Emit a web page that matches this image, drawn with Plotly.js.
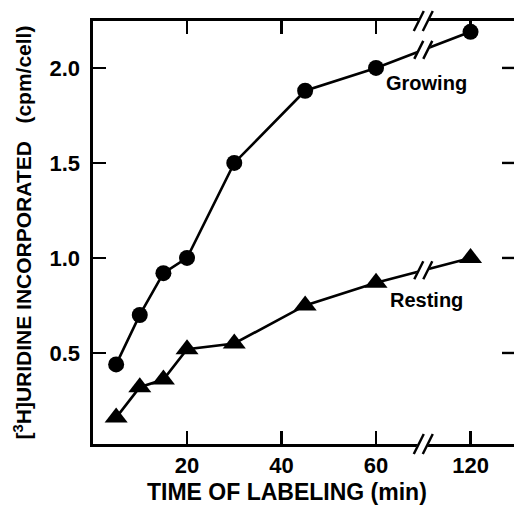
<!DOCTYPE html>
<html>
<head>
<meta charset="utf-8">
<script src="https://cdn.plot.ly/plotly-3.0.1.min.js"></script>
<style>
  html, body { margin: 0; padding: 0; background: #fff; overflow: hidden; }
  #chart { width: 514px; height: 505px; }
</style>
</head>
<body>
<div id="chart"></div>
<script>
// ---- data ----
const times = [5, 10, 15, 20, 30, 45, 60, 120];            // minutes
const growing = [0.44, 0.70, 0.92, 1.00, 1.50, 1.88, 2.00, 2.19];
const resting = [0.16, 0.32, 0.36, 0.52, 0.55, 0.75, 0.87, 1.00];
const xTickTimes = [20, 40, 60, 120];
const xTickLabels = ['20', '40', '60', '120'];
const yTickVals = [0.5, 1.0, 1.5, 2.0];
const seriesNames = ['Growing', 'Resting'];

// ---- broken time axis: everything after 60 min is shifted left ----
const BREAK_AFTER = 60;
const BREAK_SHIFT = 40;
const axisPos = t => (t > BREAK_AFTER ? t - BREAK_SHIFT : t);
const xRange = [0.1, 89.2];
const yRange = [0.021, 2.247];
const breakPos = (BREAK_AFTER + axisPos(times[times.length - 1])) / 2;

const xs = times.map(axisPos);
const FONT = 'Liberation Sans, Arial, Helvetica, sans-serif';

const traces = [
  {
    x: xs, y: growing, name: seriesNames[0], type: 'scatter', mode: 'lines+markers',
    line: { color: '#000', width: 2.6 },
    marker: { symbol: 'circle', size: 16, color: '#000' },
    hoverinfo: 'x+y'
  },
  {
    x: xs, y: resting, name: seriesNames[1], type: 'scatter', mode: 'lines+markers',
    line: { color: '#000', width: 2.6 },
    marker: { symbol: 'triangle-up', size: 20, color: '#000' },
    hoverinfo: 'x+y'
  }
];

// break marks "//"
function breakMarks(xref, yref, xa, ya, h) {
  const w = h / 2, d = 4.5;
  const base = { xref, yref, xsizemode: 'pixel', ysizemode: 'pixel', xanchor: xa, yanchor: ya };
  const fill = Object.assign({}, base, {
    type: 'path',
    path: `M ${-d - w / 2 - 1},${-h / 2} L ${-d + w / 2 - 1},${h / 2} L ${d + w / 2 + 1},${h / 2} L ${d - w / 2 + 1},${-h / 2} Z`,
    fillcolor: '#fff', line: { width: 0 }
  });
  const s1 = Object.assign({}, base, {
    type: 'line', x0: -d - w / 2, y0: -h / 2, x1: -d + w / 2, y1: h / 2,
    line: { color: '#000', width: 2.4 }
  });
  const s2 = Object.assign({}, base, {
    type: 'line', x0: d - w / 2, y0: -h / 2, x1: d + w / 2, y1: h / 2,
    line: { color: '#000', width: 2.4 }
  });
  return [fill, s1, s2];
}

const n = times.length;
const gBreakY = (growing[n - 2] + growing[n - 1]) / 2;
const rBreakY = (resting[n - 2] + resting[n - 1]) / 2;
const breakPaperX = (breakPos - xRange[0]) / (xRange[1] - xRange[0]);
const toPaperY = v => (v - yRange[0]) / (yRange[1] - yRange[0]);

// inward ticks on the (off-page) right-hand frame, drawn as thin filled bars
const rightTicks = yTickVals.map(v => ({
  type: 'rect', xref: 'paper', yref: 'paper',
  xsizemode: 'pixel', ysizemode: 'pixel', xanchor: 1, yanchor: toPaperY(v),
  x0: -12, x1: 0, y0: -1.2, y1: 1.2,
  fillcolor: '#000', line: { width: 0 }
}));

const shapes = [].concat(
  breakMarks('x', 'y', breakPos, gBreakY, 18),
  breakMarks('x', 'y', breakPos, rBreakY, 18),
  breakMarks('paper', 'paper', breakPaperX, 1, 20),
  breakMarks('paper', 'paper', breakPaperX, 0, 20),
  rightTicks
);

const tickStyle = {
  ticks: 'inside', ticklen: 13, tickwidth: 2.4, tickcolor: '#000',
  showgrid: false, zeroline: false, fixedrange: true,
  tickfont: { family: FONT, size: 22, color: '#000', weight: 'bold' }
};

const layout = {
  width: 514, height: 505,
  margin: { l: 93, r: 0, t: 21, b: 61 },
  paper_bgcolor: '#fff', plot_bgcolor: '#fff',
  showlegend: false,
  xaxis: Object.assign({}, tickStyle, {
    showline: true, linecolor: '#000', linewidth: 2.6, mirror: 'ticks',
    range: xRange,
    tickvals: xTickTimes.map(axisPos), ticktext: xTickLabels,
    ticklabelstandoff: 0
  }),
  yaxis: Object.assign({}, tickStyle, {
    showline: true, linecolor: '#000', linewidth: 2.6, mirror: false,
    range: yRange, tickvals: yTickVals, tickformat: '.1f',
    ticklabelstandoff: 6,
    title: {
      text: '[<sup>3</sup>H]URIDINE INCORPORATED\u00a0\u00a0\u00a0(cpm/cell)',
      font: { family: FONT, size: 21, color: '#000', weight: 'bold' },
      standoff: 12
    }
  }),
  shapes: shapes,
  annotations: [
    {
      text: 'TIME OF LABELING (min)', xref: 'paper', yref: 'paper',
      x: 0.46, y: -0.113, xanchor: 'center', yanchor: 'middle', showarrow: false,
      font: { family: FONT, size: 23, color: '#000', weight: 'bold' }
    },
    {
      text: seriesNames[0], xref: 'paper', yref: 'paper',
      x: 0.792, y: 0.854, xanchor: 'center', yanchor: 'middle', showarrow: false,
      font: { family: FONT, size: 20, color: '#000', weight: 'bold' }
    },
    {
      text: seriesNames[1], xref: 'paper', yref: 'paper',
      x: 0.792, y: 0.341, xanchor: 'center', yanchor: 'middle', showarrow: false,
      font: { family: FONT, size: 20, color: '#000', weight: 'bold' }
    }
  ]
};

Plotly.newPlot('chart', traces, layout, { displayModeBar: false, staticPlot: true });
</script>
</body>
</html>
